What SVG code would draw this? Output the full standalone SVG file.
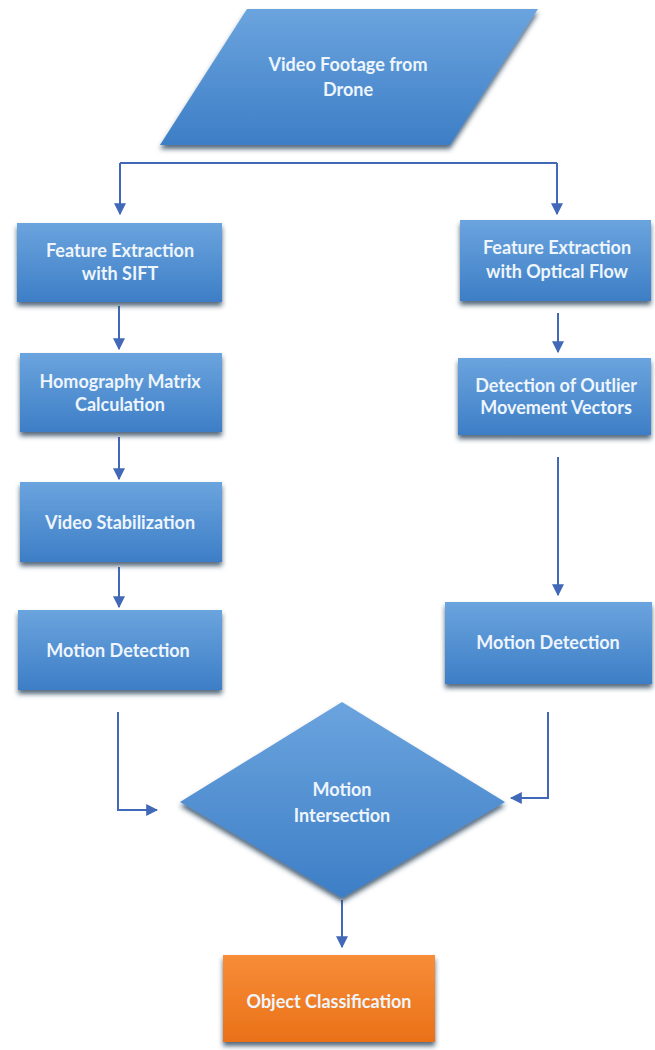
<svg xmlns="http://www.w3.org/2000/svg" width="655" height="1050" viewBox="0 0 655 1050">
<defs>
<linearGradient id="gb" x1="0" y1="0" x2="0" y2="1">
<stop offset="0" stop-color="#6ba4de"/>
<stop offset="1" stop-color="#3d7ec6"/>
</linearGradient>
<linearGradient id="go" x1="0" y1="0" x2="0" y2="1">
<stop offset="0" stop-color="#f78d38"/>
<stop offset="1" stop-color="#ea7118"/>
</linearGradient>
<filter id="sh" x="-10%" y="-10%" width="120%" height="130%">
<feDropShadow dx="0" dy="4" stdDeviation="2.5" flood-color="#1d3550" flood-opacity="0.75"/>
</filter>
<marker id="ah" viewBox="0 0 10 10" refX="9" refY="5" markerWidth="6" markerHeight="6" orient="auto" markerUnits="strokeWidth">
<path d="M0,0 L10,5 L0,10 z" fill="#4169b8"/>
</marker>
<style>
.n{fill:url(#gb);filter:url(#sh);}
.o{fill:url(#go);filter:url(#sh);}
.t{font-family:Lato,"Open Sans","Liberation Sans",sans-serif;font-weight:bold;font-size:18px;fill:#eef5fc;text-anchor:middle;}
.c{fill:none;stroke:#4169b8;stroke-width:2;marker-end:url(#ah);}
.l{fill:none;stroke:#4169b8;stroke-width:2;}
</style>
</defs>
<rect width="655" height="1050" fill="#ffffff"/>
<g id="connectors">
<path class="l" d="M120,163 H557"/>
<path class="c" d="M120,163 V214"/>
<path class="c" d="M557,163 V214"/>
<path class="c" d="M119,306 V349"/>
<path class="c" d="M119,437 V479"/>
<path class="c" d="M119,567 V607"/>
<path class="c" d="M558,313 V352"/>
<path class="c" d="M558,457 V595"/>
<path class="c" d="M118,712 V810 H157"/>
<path class="c" d="M548,712 V798 H511"/>
<path class="c" d="M342,900 V947"/>
</g>
<g id="video-footage">
<polygon class="n" points="247,9 538,9 450,145 160,145"/>
<text class="t" x="348" y="71">Video Footage from</text>
<text class="t" x="348" y="96">Drone</text>
</g>
<g id="sift">
<rect class="n" x="17" y="223" width="205" height="79"/>
<text class="t" x="120" y="257">Feature Extraction</text>
<text class="t" x="120" y="280">with SIFT</text>
</g>
<g id="optical-flow">
<rect class="n" x="460" y="220" width="191" height="81"/>
<text class="t" x="557" y="254">Feature Extraction</text>
<text class="t" x="557" y="278">with Optical Flow</text>
</g>
<g id="homography">
<rect class="n" x="20" y="353" width="202" height="79"/>
<text class="t" x="120" y="388">Homography Matrix</text>
<text class="t" x="120" y="411">Calculation</text>
</g>
<g id="outlier">
<rect class="n" x="458" y="358" width="193" height="77"/>
<text class="t" x="556" y="392">Detection of Outlier</text>
<text class="t" x="556" y="414">Movement Vectors</text>
</g>
<g id="stabilization">
<rect class="n" x="20" y="482" width="202" height="80"/>
<text class="t" x="120" y="529">Video Stabilization</text>
</g>
<g id="motion-left">
<rect class="n" x="18" y="610" width="204" height="80"/>
<text class="t" x="118" y="657">Motion Detection</text>
</g>
<g id="motion-right">
<rect class="n" x="445" y="602" width="207" height="82"/>
<text class="t" x="548" y="649">Motion Detection</text>
</g>
<g id="intersection">
<polygon class="n" points="342,702 505,802 342,898 180,802"/>
<text class="t" x="342" y="796">Motion</text>
<text class="t" x="342" y="822">Intersection</text>
</g>
<g id="classification">
<rect class="o" x="223" y="955" width="212" height="87"/>
<text class="t" x="329" y="1008">Object Classification</text>
</g>
</svg>
